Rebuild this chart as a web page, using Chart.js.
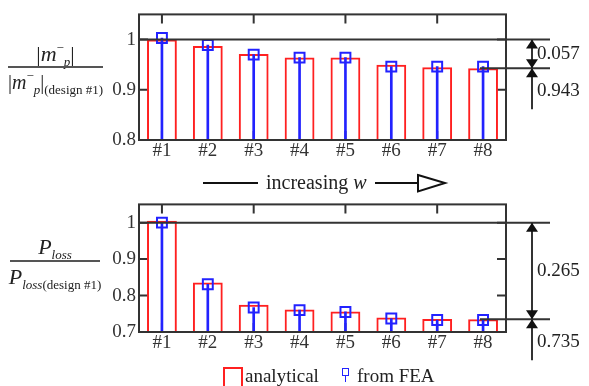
<!DOCTYPE html>
<html>
<head>
<meta charset="utf-8">
<script src="https://cdn.jsdelivr.net/npm/chart.js@4.4.1/dist/chart.umd.min.js"></script>
<style>
  body { margin:0; width:589px; height:386px; background:#fff; position:relative; overflow:hidden;
         font-family:"Liberation Serif", "Times New Roman", serif; color:#222; }
  .wrap { position:absolute; left:0; width:589px; }
  #w1 { top:0; height:170px; }
  #w2 { top:190px; height:196px; }
  .lbl { position:absolute; white-space:nowrap; text-align:center; line-height:1; }
  .bar { position:absolute; height:1.5px; background:#555; }
  i { font-style:italic; }
  .sup { font-size:13px; position:relative; top:-9px; }
  .sub { font-size:13px; position:relative; top:5px; }
  .dsg { font-size:13px; position:relative; top:5px; }
</style>
</head>
<body>
<div class="wrap" id="w1"><canvas id="top"></canvas></div>
<div class="wrap" id="w2"><canvas id="bottom"></canvas></div>

<!-- left labels -->
<div class="lbl" style="left:0;width:111px;top:43px;font-size:22px;">|<i>m</i><span class="sup">−</span><i class="sub">p</i>|</div>
<div class="bar" style="left:8px;width:95px;top:66px;"></div>
<div class="lbl" style="left:0;width:111px;top:72px;font-size:20px;">|<i>m</i><span class="sup">−</span><i class="sub">p</i>|<span class="dsg">(design #1)</span></div>

<div class="lbl" style="left:0;width:110px;top:236px;font-size:22px;"><i>P</i><i class="sub">loss</i></div>
<div class="bar" style="left:10px;width:90px;top:260px;"></div>
<div class="lbl" style="left:0;width:110px;top:266px;font-size:22px;"><i>P</i><i class="sub">loss</i><span class="dsg">(design #1)</span></div>

<!-- increasing w -->
<div style="position:absolute;left:203px;top:182px;width:55px;height:2px;background:#111;"></div>
<div class="lbl" style="left:266px;top:172px;font-size:20px;">increasing <i>w</i></div>
<svg style="position:absolute;left:0;top:0" width="589" height="386">
  <line x1="375" y1="183" x2="418" y2="183" stroke="#111" stroke-width="2"/>
  <polygon points="418,175 445,183 418,191.5" fill="#fff" stroke="#111" stroke-width="2"/>
</svg>

<!-- legend -->
<div style="position:absolute;left:223px;top:367px;width:16px;height:22px;border:2px solid #ff2020;border-bottom:none;"></div>
<div class="lbl" style="left:245px;top:366px;font-size:19px;">analytical</div>
<div style="position:absolute;left:342px;top:368px;width:5px;height:6px;border:1.5px solid #2222ff;"></div>
<div style="position:absolute;left:344.5px;top:376px;width:1.5px;height:6px;background:#2222ff;"></div>
<div class="lbl" style="left:357px;top:366px;font-size:19px;">from FEA</div>

<script>
const designs = ['#1', '#2', '#3', '#4', '#5', '#6', '#7', '#8'];

// |m-p| / |m-p|(design #1)
const mAnalytical = [1.000, 0.987, 0.971, 0.964, 0.964, 0.950, 0.945, 0.943];
const mFEA        = [1.003, 0.989, 0.970, 0.964, 0.964, 0.946, 0.946, 0.946];
const mTicks = [0.8, 0.9, 1];
const mMarks = [1, 0.943];

// Ploss / Ploss(design #1)
const pAnalytical = [1.005, 0.836, 0.775, 0.762, 0.756, 0.740, 0.736, 0.735];
const pFEA        = [1.000, 0.831, 0.767, 0.760, 0.755, 0.737, 0.733, 0.733];
const pTicks = [0.7, 0.8, 0.9, 1];
const pMarks = [1, 0.735];

const RED = '#ff2020';
const BLUE = '#2222ff';
const INK = '#333';
const FONT = '"Liberation Serif", "Times New Roman", serif';

// frame, inward ticks, reference lines and the dimension arrows
const decor = {
  id: 'decor',
  beforeDatasetsDraw(chart, args, opts) {
    const {ctx, chartArea: a, scales: {x, y}} = chart;
    ctx.save();
    ctx.strokeStyle = INK;
    ctx.lineWidth = 2;
    ctx.beginPath();
    for (let i = 0; i < designs.length; i += 2) {
      const px = x.getPixelForValue(i);
      ctx.moveTo(px, a.top); ctx.lineTo(px, a.top + 9);
      ctx.moveTo(px, a.bottom); ctx.lineTo(px, a.bottom - 9);
    }
    opts.ticks.forEach(v => {
      const py = y.getPixelForValue(v);
      ctx.moveTo(a.left, py); ctx.lineTo(a.left + 9, py);
      ctx.moveTo(a.right, py); ctx.lineTo(a.right - 9, py);
    });
    ctx.stroke();
    ctx.restore();
  },
  afterDraw(chart, args, opts) {
    const {ctx, chartArea: a, scales: {y}} = chart;
    const y1 = y.getPixelForValue(opts.marks[0]);
    const y2 = y.getPixelForValue(opts.marks[1]);
    const ax = 532;
    ctx.save();
    ctx.strokeStyle = INK;
    ctx.fillStyle = '#111';
    ctx.lineWidth = 2;
    ctx.strokeRect(a.left, a.top, a.right - a.left, a.bottom - a.top);
    ctx.beginPath();
    ctx.moveTo(a.left, y1); ctx.lineTo(550, y1);
    ctx.moveTo(480, y2); ctx.lineTo(550, y2);
    ctx.moveTo(ax, y1); ctx.lineTo(ax, y2 + opts.tail);
    ctx.stroke();

    const head = (tipY, dir) => {
      ctx.beginPath();
      ctx.moveTo(ax, tipY);
      ctx.lineTo(ax - 6, tipY + dir * 9);
      ctx.lineTo(ax + 6, tipY + dir * 9);
      ctx.closePath();
      ctx.fill();
    };
    head(y1, 1);
    head(y2, -1);
    head(y2, 1);

    ctx.font = '19px ' + FONT;
    ctx.fillStyle = '#222';
    ctx.textBaseline = 'middle';
    ctx.textAlign = 'left';
    ctx.fillText((opts.marks[0] - opts.marks[1]).toFixed(3), 537, (y1 + y2) / 2);
    ctx.fillText(opts.marks[1].toFixed(3), 537, y2 + 23);
    ctx.restore();
  }
};

function makeChart(id, analytical, fea, yMin, yTicks, marks, topPad, xHeight, tail) {
  return new Chart(document.getElementById(id), {
    type: 'bar',
    data: {
      labels: designs,
      datasets: [
        {
          type: 'line', data: fea, showLine: false, order: 1,
          pointStyle: 'rect', pointRadius: 7, pointBorderWidth: 2,
          pointBorderColor: BLUE, pointBackgroundColor: 'rgba(0,0,0,0)'
        },
        {
          data: fea, order: 2, grouped: false, barThickness: 2,
          backgroundColor: BLUE, borderWidth: 0
        },
        {
          data: analytical, order: 3, grouped: false,
          barPercentage: 0.65, categoryPercentage: 1,
          backgroundColor: 'rgba(0,0,0,0)', borderColor: RED, borderWidth: 2
        }
      ]
    },
    options: {
      responsive: true,
      maintainAspectRatio: false,
      animation: false,
      layout: { padding: { top: topPad, right: 83, left: 0, bottom: 0 } },
      plugins: {
        legend: { display: false },
        tooltip: { enabled: false },
        decor: { marks: marks, ticks: yTicks, tail: tail }
      },
      scales: {
        x: {
          grid: { display: false, drawTicks: false },
          border: { display: false },
          ticks: { color: INK, font: { family: FONT, size: 19 }, padding: 0 },
          afterFit: s => { s.height = xHeight; }
        },
        y: {
          min: yMin, max: 1.05,
          grid: { display: false, drawTicks: false },
          border: { display: false },
          afterBuildTicks: s => { s.ticks = yTicks.map(v => ({ value: v })); },
          ticks: {
            color: INK, font: { family: FONT, size: 19 }, padding: 3,
            callback: v => String(+v.toFixed(3))
          },
          afterFit: s => { s.width = 139; }
        }
      }
    },
    plugins: [decor]
  });
}

makeChart('top', mAnalytical, mFEA, 0.8, mTicks, mMarks, 11, 30, 41);
makeChart('bottom', pAnalytical, pFEA, 0.7, pTicks, pMarks, 14, 54, 41);
</script>
</body>
</html>
